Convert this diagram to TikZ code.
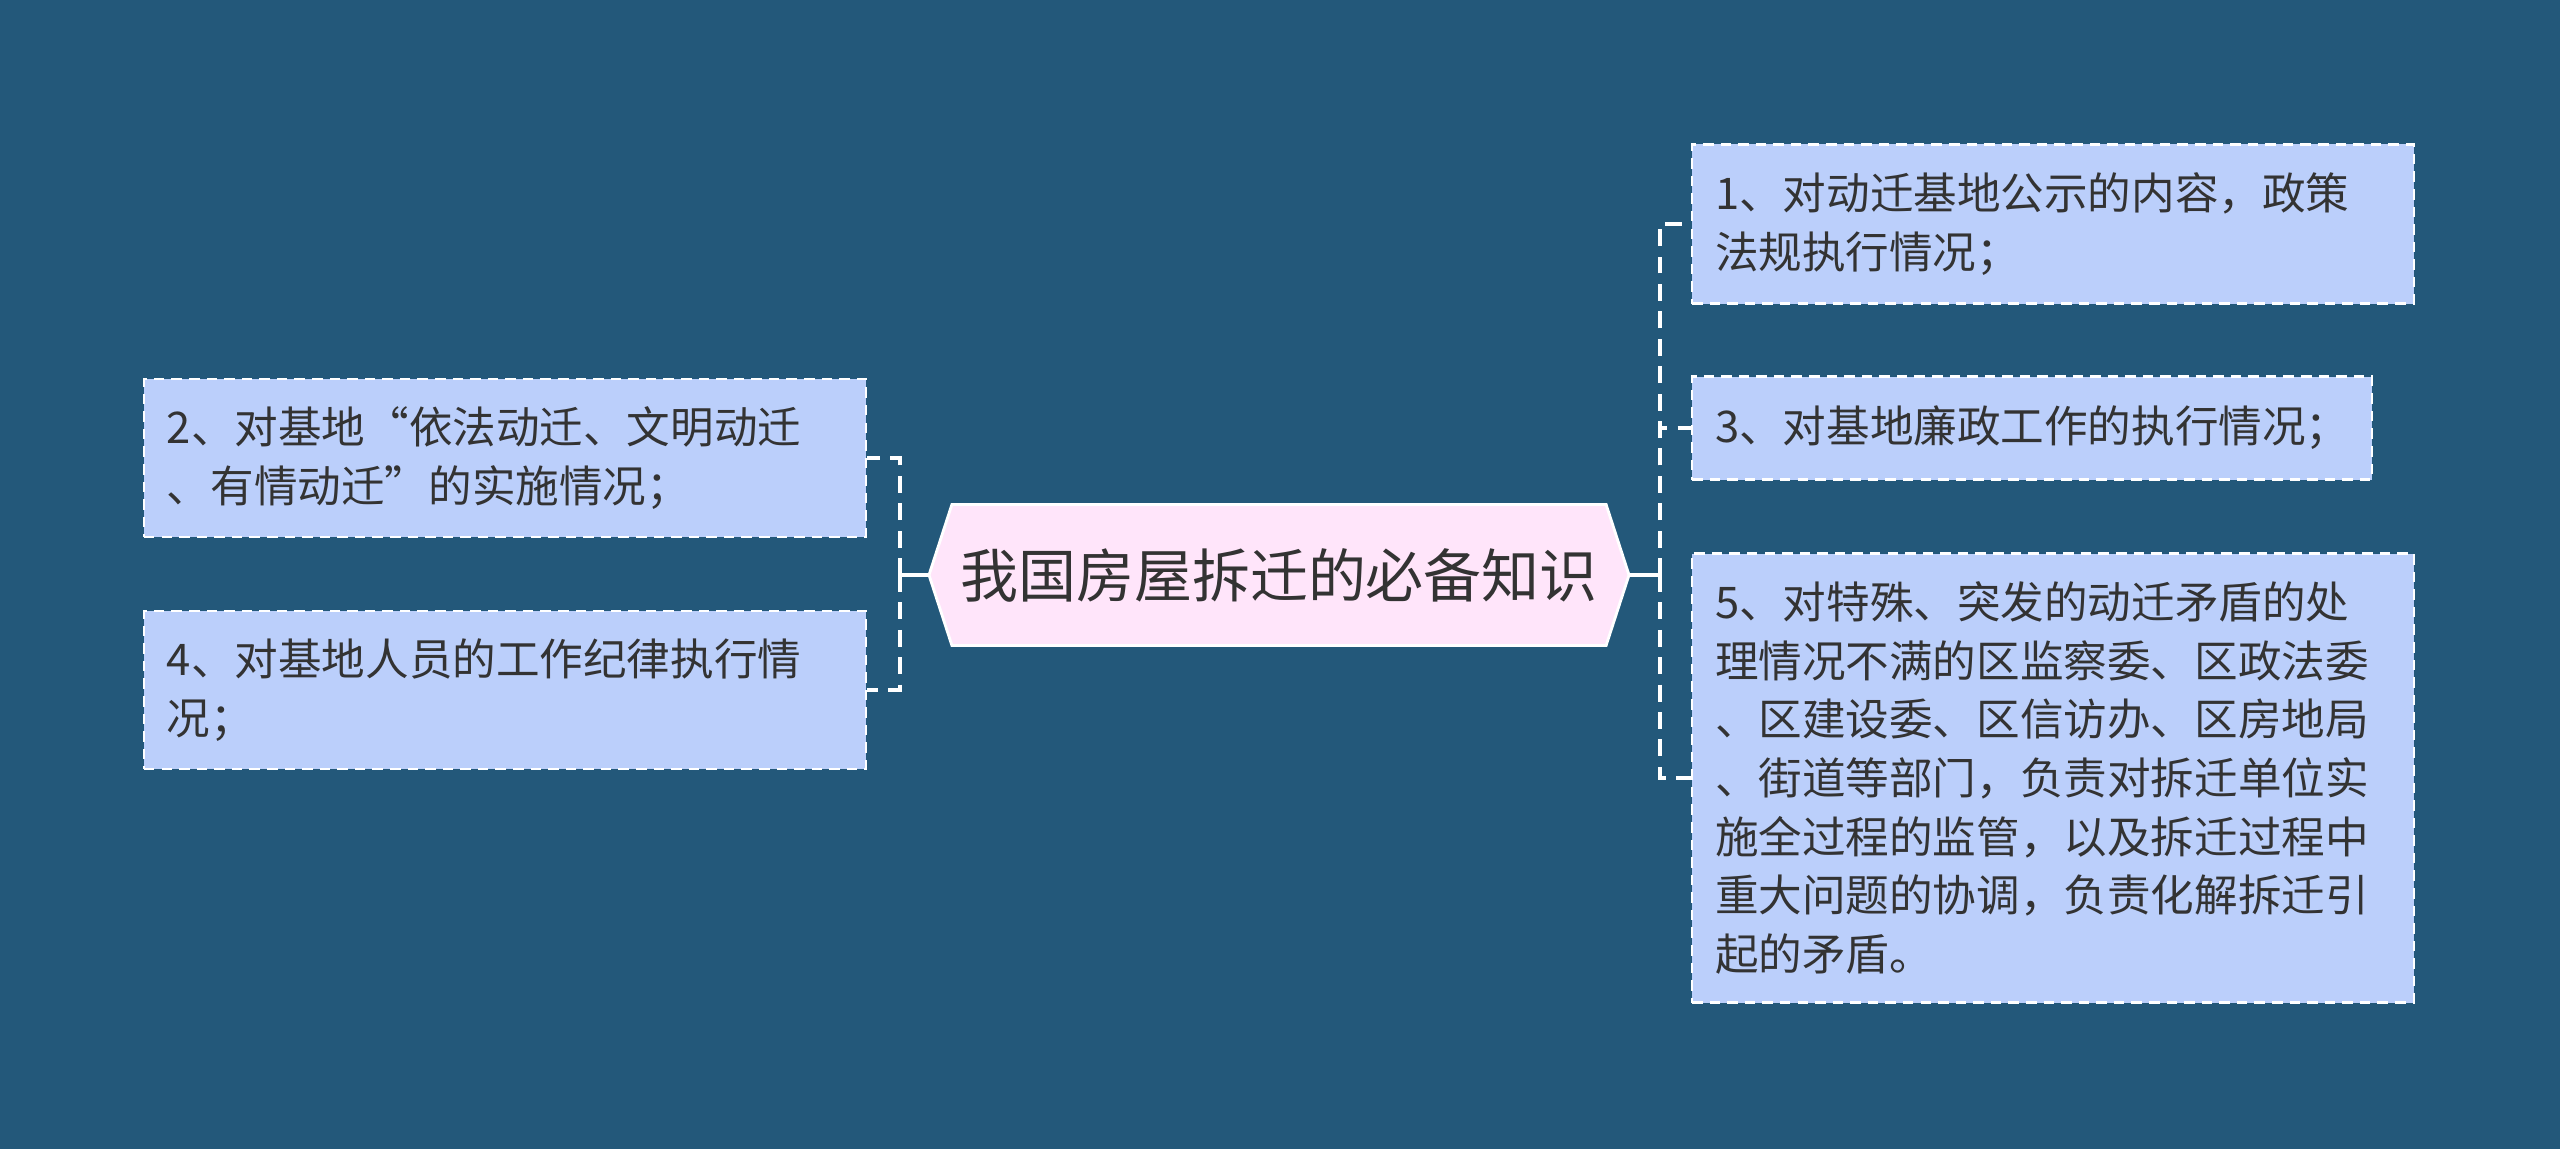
\documentclass[tikz,border=0pt]{standalone}
\usepackage{fontspec}
\setmainfont{Noto Sans CJK SC}
\usepackage{tikz}
\usetikzlibrary{shapes.symbols}
\definecolor{mm-bg}{HTML}{23587A}
\definecolor{mm-leaf}{HTML}{BBCFFB}
\definecolor{mm-hub}{HTML}{FFE5FA}
\definecolor{mm-text}{HTML}{333333}

\begin{document}
\begin{tikzpicture}[
    hub/.style={signal, signal to=west and east, signal pointer angle=144,
        draw=white, line width=0.8pt, fill=mm-hub, text=mm-text,
        minimum width=7.0cm, minimum height=1.41cm, inner sep=0pt,
        font=\fontsize{16.5}{20}\selectfont},
    leaf/.style={rectangle, draw=white, line width=0.6pt, dash pattern=on 3pt off 2pt,
        fill=mm-leaf, text=mm-text, align=left, text width=#1,
        inner xsep=0.23cm, inner ysep=0pt,
        font=\fontsize{12.4}{16.7}\selectfont},
    stem/.style={draw=white, line width=1.3pt},
    branch/.style={draw=white, line width=1.2pt, dash pattern=on 4.8pt off 3pt}
]
    % --- Background ---
    \fill[mm-bg] (0, 0) rectangle (25.6, -11.49);
    \useasboundingbox (0, 0) rectangle (25.6, -11.49);

    % --- Central topic ---
    \node[hub] (hub) at (12.79, -5.75) {我国房屋拆迁的必备知识};

    % --- Left branches ---
    \node[leaf=6.76cm, minimum height=1.58cm, anchor=east] (b2) at (8.67, -4.58)
        {2、对基地“依法动迁、文明动迁\\、有情动迁”的实施情况；};
    \node[leaf=6.76cm, minimum height=1.58cm, anchor=east] (b4) at (8.67, -6.90)
        {4、对基地人员的工作纪律执行情\\况；};

    % --- Right branches ---
    \node[leaf=6.76cm, minimum height=1.59cm, anchor=west] (b1) at (16.91, -2.24)
        {1、对动迁基地公示的内容，政策\\法规执行情况；};
    \node[leaf=6.34cm, minimum height=1.03cm, anchor=west] (b3) at (16.91, -4.28)
        {3、对基地廉政工作的执行情况；};
    \node[leaf=6.76cm, minimum height=4.49cm, anchor=west] (b5) at (16.91, -7.78)
        {5、对特殊、突发的动迁矛盾的处\\理情况不满的区监察委、区政法委\\、区建设委、区信访办、区房地局\\、街道等部门，负责对拆迁单位实\\施全过程的监管，以及拆迁过程中\\重大问题的协调，负责化解拆迁引\\起的矛盾。};

    % --- Connectors ---
    \coordinate (jl) at (9.00, -5.75);
    \coordinate (jr) at (16.60, -5.75);
    \draw[stem] (hub.west) -- (jl);
    \draw[stem] (hub.east) -- (jr);
    \foreach \b in {b2, b4}
        \draw[branch] (jl) |- (\b.east);
    \foreach \b in {b1, b3, b5}
        \draw[branch] (jr) |- (\b.west);
\end{tikzpicture}
\end{document}
